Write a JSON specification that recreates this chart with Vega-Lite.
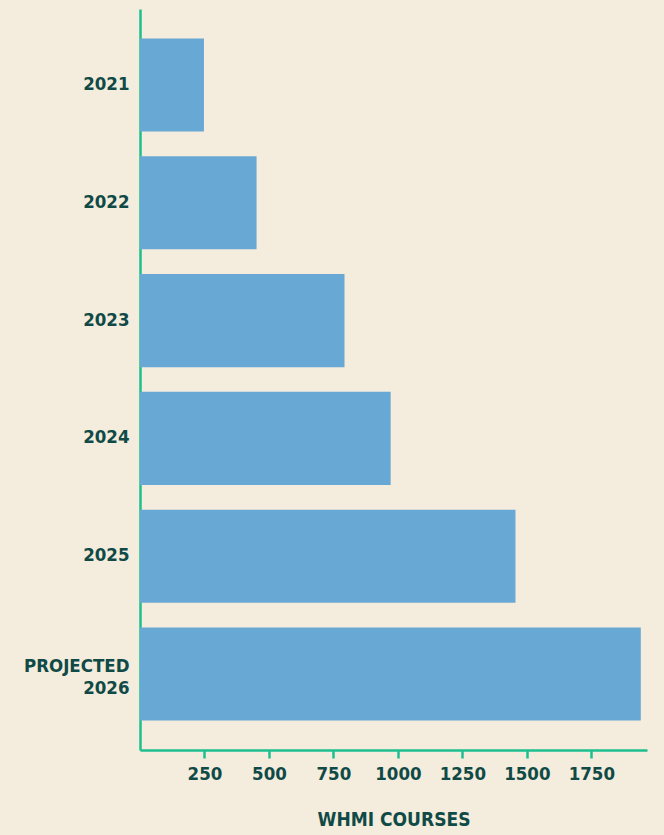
{
  "$schema": "https://vega.github.io/schema/vega-lite/v6.json",
  "width": 507,
  "height": 741,
  "autosize": "none",
  "padding": {"left": 140, "top": 9, "right": 17, "bottom": 85},
  "background": "#f4ecdc",
  "config": {
    "view": {"stroke": null},
    "font": "DejaVu Sans Condensed"
  },
  "data": {
    "values": [
      {"year": "2021", "courses": 248},
      {"year": "2022", "courses": 452},
      {"year": "2023", "courses": 793},
      {"year": "2024", "courses": 972},
      {"year": "2025", "courses": 1456},
      {"year": "PROJECTED 2026", "courses": 1942}
    ]
  },
  "mark": {"type": "bar", "color": "#68a8d5"},
  "encoding": {
    "y": {
      "field": "year",
      "type": "nominal",
      "sort": null,
      "scale": {"paddingInner": 0.21, "paddingOuter": 0.25},
      "axis": {
        "title": null,
        "ticks": false,
        "domainColor": "#1dbf8f",
        "domainWidth": 2.5,
        "labelFont": "DejaVu Sans Condensed",
        "labelFontWeight": "bold",
        "labelFontSize": 18.5,
        "labelColor": "#0f4a47",
        "labelPadding": 11,
        "labelLineHeight": 22,
        "labelOffset": {"condition": {"test": "datum.value == 'PROJECTED 2026'", "value": -8}, "value": -1},
        "labelExpr": "datum.value == 'PROJECTED 2026' ? ['PROJECTED', '2026'] : datum.value"
      }
    },
    "x": {
      "field": "courses",
      "type": "quantitative",
      "scale": {"domain": [0, 1966], "nice": false},
      "axis": {
        "title": "WHMI COURSES",
        "values": [250, 500, 750, 1000, 1250, 1500, 1750],
        "format": "d",
        "grid": false,
        "domainColor": "#1dbf8f",
        "domainWidth": 2.5,
        "tickColor": "#1dbf8f",
        "tickWidth": 2.5,
        "tickSize": 8,
        "labelFont": "DejaVu Sans Condensed",
        "labelFontWeight": "bold",
        "labelFontSize": 18.5,
        "labelColor": "#0f4a47",
        "labelPadding": 6,
        "titleFont": "DejaVu Sans Condensed",
        "titleFontWeight": "bold",
        "titleFontSize": 19,
        "titleColor": "#0f4a47",
        "titlePadding": 28
      }
    }
  }
}
